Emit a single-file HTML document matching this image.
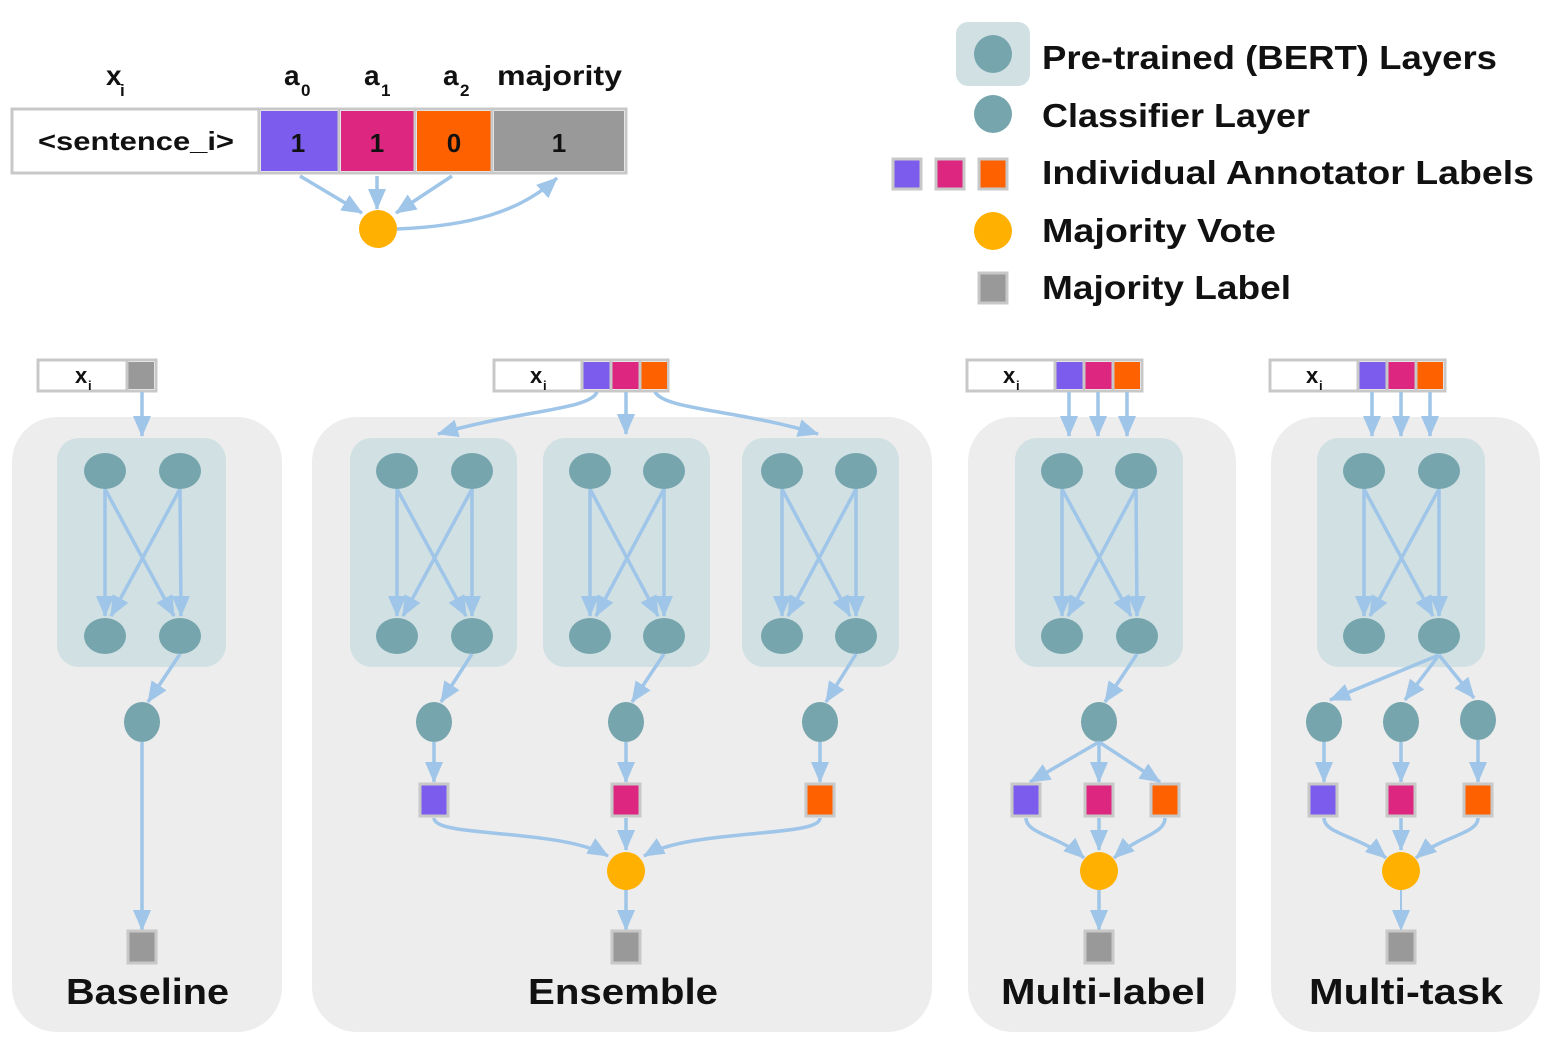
<!DOCTYPE html>
<html><head><meta charset="utf-8"><style>
body{margin:0;background:#fff}
svg{display:block}
text{font-family:"Liberation Sans",sans-serif;fill:#111}
.a{stroke:#9fc5e8;stroke-width:3.5;fill:none;marker-end:url(#m)}
.n{fill:#76a5ae}
.b{fill:#d1e0e3}
.p{fill:#ededed}
.sq{stroke:#c8c8c8;stroke-width:3}
</style></head><body>
<svg width="1556" height="1042" viewBox="0 0 1556 1042" xmlns="http://www.w3.org/2000/svg">
<defs>
<marker id="m" markerUnits="userSpaceOnUse" markerWidth="22" markerHeight="18" refX="20" refY="9" orient="auto">
<path d="M0,0 L21,9 L0,18 z" fill="#9fc5e8"/>
</marker>
</defs>

<!-- top table -->
<g font-size="28" font-weight="bold">
<text x="106" y="85">x</text><text x="120" y="96" font-size="17">i</text>
<text x="284" y="85">a</text><text x="301" y="96" font-size="17">0</text>
<text x="364" y="85">a</text><text x="381" y="96" font-size="17">1</text>
<text x="443" y="85">a</text><text x="460" y="96" font-size="17">2</text>
<text x="497" y="85" textLength="125" lengthAdjust="spacingAndGlyphs">majority</text>
</g>
<rect x="12" y="109" width="614" height="64" fill="#fff" stroke="#c8c8c8" stroke-width="3"/>
<rect x="261" y="111" width="77" height="60" fill="#7b5cec"/>
<rect x="341" y="111" width="73" height="60" fill="#dc267f"/>
<rect x="417" y="111" width="74" height="60" fill="#fe6100"/>
<rect x="494" y="111" width="130" height="60" fill="#999"/>
<line x1="259" y1="110" x2="259" y2="172" stroke="#c8c8c8" stroke-width="3"/>
<line x1="339" y1="110" x2="339" y2="172" stroke="#c8c8c8" stroke-width="3"/>
<line x1="415" y1="110" x2="415" y2="172" stroke="#c8c8c8" stroke-width="3"/>
<line x1="492" y1="110" x2="492" y2="172" stroke="#c8c8c8" stroke-width="3"/>
<g font-size="26" font-weight="bold">
<text x="38" y="150" textLength="196" lengthAdjust="spacingAndGlyphs">&lt;sentence_i&gt;</text>
</g>
<g font-size="26" font-weight="bold" text-anchor="middle">
<text x="298" y="152">1</text><text x="377" y="152">1</text><text x="454" y="152">0</text><text x="559" y="152">1</text>
</g>
<path class="a" d="M300,176 L362,213"/>
<path class="a" d="M377,176 L377,209"/>
<path class="a" d="M452,176 L396,213"/>
<path class="a" d="M397,229 C470,226 520,212 557,178"/>
<ellipse cx="378" cy="229" rx="19" ry="19" fill="#ffb000"/>

<!-- legend -->
<rect x="956" y="22" width="74" height="64" rx="12" class="b"/>
<circle cx="993" cy="54" r="19" class="n"/>
<circle cx="993" cy="114" r="19" class="n"/>
<rect x="893" y="159" width="28" height="30" fill="#7b5cec" class="sq"/>
<rect x="936" y="159" width="28" height="30" fill="#dc267f" class="sq"/>
<rect x="979" y="159" width="28" height="30" fill="#fe6100" class="sq"/>
<circle cx="993" cy="231" r="19" fill="#ffb000"/>
<rect x="979" y="273" width="28" height="30" fill="#999" class="sq"/>
<g font-size="33" font-weight="bold">
<text x="1042" y="69" textLength="455" lengthAdjust="spacingAndGlyphs">Pre-trained (BERT) Layers</text>
<text x="1042" y="127" textLength="268" lengthAdjust="spacingAndGlyphs">Classifier Layer</text>
<text x="1042" y="184" textLength="492" lengthAdjust="spacingAndGlyphs">Individual Annotator Labels</text>
<text x="1042" y="242" textLength="234" lengthAdjust="spacingAndGlyphs">Majority Vote</text>
<text x="1042" y="299" textLength="249" lengthAdjust="spacingAndGlyphs">Majority Label</text>
</g>

<!-- panels -->
<rect x="12" y="417" width="270" height="615" rx="45" class="p"/>
<rect x="312" y="417" width="620" height="615" rx="45" class="p"/>
<rect x="968" y="417" width="268" height="615" rx="45" class="p"/>
<rect x="1271" y="417" width="269" height="615" rx="45" class="p"/>

<g font-size="36" font-weight="bold">
<text x="66" y="1004" textLength="163" lengthAdjust="spacingAndGlyphs">Baseline</text>
<text x="528" y="1004" textLength="190" lengthAdjust="spacingAndGlyphs">Ensemble</text>
<text x="1001" y="1004" textLength="205" lengthAdjust="spacingAndGlyphs">Multi-label</text>
<text x="1309" y="1004" textLength="194" lengthAdjust="spacingAndGlyphs">Multi-task</text>
</g>

<!-- BERT boxes -->
<rect x="57" y="438" width="169" height="229" rx="22" class="b"/>
<rect x="350" y="438" width="167" height="229" rx="22" class="b"/>
<rect x="543" y="438" width="167" height="229" rx="22" class="b"/>
<rect x="742" y="438" width="157" height="229" rx="22" class="b"/>
<rect x="1015" y="438" width="168" height="229" rx="22" class="b"/>
<rect x="1317" y="438" width="168" height="229" rx="22" class="b"/>

<!-- BERT internals: arrows -->
<g>
<path class="a" d="M105,489 L105,616"/><path class="a" d="M105,489 L174,616"/><path class="a" d="M180,489 L111,616"/><path class="a" d="M180,489 L181,616"/>
<path class="a" d="M397,489 L397,616"/><path class="a" d="M397,489 L466,616"/><path class="a" d="M472,489 L403,616"/><path class="a" d="M472,489 L472,616"/>
<path class="a" d="M590,489 L590,616"/><path class="a" d="M590,489 L658,616"/><path class="a" d="M664,489 L596,616"/><path class="a" d="M664,489 L664,616"/>
<path class="a" d="M782,489 L782,616"/><path class="a" d="M782,489 L850,616"/><path class="a" d="M856,489 L788,616"/><path class="a" d="M856,489 L856,616"/>
<path class="a" d="M1062,489 L1062,616"/><path class="a" d="M1062,489 L1131,616"/><path class="a" d="M1136,489 L1068,616"/><path class="a" d="M1136,489 L1137,616"/>
<path class="a" d="M1364,489 L1364,616"/><path class="a" d="M1364,489 L1433,616"/><path class="a" d="M1439,489 L1370,616"/><path class="a" d="M1439,489 L1439,616"/>
</g>
<g class="n">
<ellipse cx="105" cy="471" rx="21" ry="18"/><ellipse cx="180" cy="471" rx="21" ry="18"/><ellipse cx="105" cy="636" rx="21" ry="18"/><ellipse cx="180" cy="636" rx="21" ry="18"/>
<ellipse cx="397" cy="471" rx="21" ry="18"/><ellipse cx="472" cy="471" rx="21" ry="18"/><ellipse cx="397" cy="636" rx="21" ry="18"/><ellipse cx="472" cy="636" rx="21" ry="18"/>
<ellipse cx="590" cy="471" rx="21" ry="18"/><ellipse cx="664" cy="471" rx="21" ry="18"/><ellipse cx="590" cy="636" rx="21" ry="18"/><ellipse cx="664" cy="636" rx="21" ry="18"/>
<ellipse cx="782" cy="471" rx="21" ry="18"/><ellipse cx="856" cy="471" rx="21" ry="18"/><ellipse cx="782" cy="636" rx="21" ry="18"/><ellipse cx="856" cy="636" rx="21" ry="18"/>
<ellipse cx="1062" cy="471" rx="21" ry="18"/><ellipse cx="1136" cy="471" rx="21" ry="18"/><ellipse cx="1062" cy="636" rx="21" ry="18"/><ellipse cx="1137" cy="636" rx="21" ry="18"/>
<ellipse cx="1364" cy="471" rx="21" ry="18"/><ellipse cx="1439" cy="471" rx="21" ry="18"/><ellipse cx="1364" cy="636" rx="21" ry="18"/><ellipse cx="1439" cy="636" rx="21" ry="18"/>
</g>

<!-- Baseline flow -->
<rect x="38" y="360" width="118" height="31" fill="#fff" stroke="#c8c8c8" stroke-width="3"/>
<rect x="128" y="362" width="26" height="27" fill="#999"/>
<line x1="127" y1="361" x2="127" y2="390" stroke="#c8c8c8" stroke-width="3"/>
<text x="75" y="383" font-size="22" font-weight="bold">x</text><text x="88" y="390" font-size="13" font-weight="bold">i</text>
<path class="a" d="M142,392 L142,436"/>
<path class="a" d="M180,654 L148,702"/>
<ellipse cx="142" cy="722" rx="18" ry="20" class="n"/>
<path class="a" d="M142,742 L142,930"/>
<rect x="128" y="931" width="28" height="32" fill="#999" class="sq"/>

<!-- Ensemble flow -->
<rect x="494" y="360" width="174" height="31" fill="#fff" stroke="#c8c8c8" stroke-width="3"/>
<rect x="583" y="362" width="27" height="27" fill="#7b5cec"/>
<rect x="612" y="362" width="27" height="27" fill="#dc267f"/>
<rect x="641" y="362" width="26" height="27" fill="#fe6100"/>
<path d="M582,361 V390 M611,361 V390 M640,361 V390" stroke="#c8c8c8" stroke-width="3"/>
<text x="530" y="383" font-size="22" font-weight="bold">x</text><text x="543" y="390" font-size="13" font-weight="bold">i</text>
<path class="a" d="M597,392 C590,410 520,410 438,434"/>
<path class="a" d="M626,392 L626,434"/>
<path class="a" d="M655,392 C665,410 740,410 818,434"/>
<path class="a" d="M472,654 L441,702"/>
<path class="a" d="M664,654 L632,702"/>
<path class="a" d="M856,654 L826,702"/>
<ellipse cx="434" cy="722" rx="18" ry="20" class="n"/>
<ellipse cx="626" cy="722" rx="18" ry="20" class="n"/>
<ellipse cx="820" cy="722" rx="18" ry="20" class="n"/>
<path class="a" d="M434,742 L434,782"/>
<path class="a" d="M626,742 L626,782"/>
<path class="a" d="M820,742 L820,782"/>
<rect x="420" y="784" width="28" height="32" fill="#7b5cec" class="sq"/>
<rect x="612" y="784" width="28" height="32" fill="#dc267f" class="sq"/>
<rect x="806" y="784" width="28" height="32" fill="#fe6100" class="sq"/>
<path class="a" d="M434,818 C434,838 560,828 608,856"/>
<path class="a" d="M626,818 L626,850"/>
<path class="a" d="M820,818 C820,838 692,828 644,856"/>
<ellipse cx="626" cy="871" rx="19" ry="19" fill="#ffb000"/>
<path class="a" d="M626,890 L626,930"/>
<rect x="612" y="931" width="28" height="32" fill="#999" class="sq"/>

<!-- Multi-label flow -->
<rect x="967" y="360" width="175" height="31" fill="#fff" stroke="#c8c8c8" stroke-width="3"/>
<rect x="1056" y="362" width="27" height="27" fill="#7b5cec"/>
<rect x="1085" y="362" width="27" height="27" fill="#dc267f"/>
<rect x="1114" y="362" width="26" height="27" fill="#fe6100"/>
<path d="M1055,361 V390 M1084,361 V390 M1113,361 V390" stroke="#c8c8c8" stroke-width="3"/>
<text x="1003" y="383" font-size="22" font-weight="bold">x</text><text x="1016" y="390" font-size="13" font-weight="bold">i</text>
<path class="a" d="M1069,392 L1069,436"/>
<path class="a" d="M1098,392 L1098,436"/>
<path class="a" d="M1127,392 L1127,436"/>
<path class="a" d="M1137,654 L1105,702"/>
<ellipse cx="1099" cy="722" rx="18" ry="20" class="n"/>
<path class="a" d="M1099,742 L1030,782"/>
<path class="a" d="M1099,742 L1099,782"/>
<path class="a" d="M1099,742 L1160,782"/>
<rect x="1012" y="784" width="28" height="32" fill="#7b5cec" class="sq"/>
<rect x="1085" y="784" width="28" height="32" fill="#dc267f" class="sq"/>
<rect x="1151" y="784" width="28" height="32" fill="#fe6100" class="sq"/>
<path class="a" d="M1026,818 C1026,834 1060,836 1084,858"/>
<path class="a" d="M1099,818 L1099,850"/>
<path class="a" d="M1165,818 C1165,834 1138,836 1114,858"/>
<ellipse cx="1099" cy="871" rx="19" ry="19" fill="#ffb000"/>
<path class="a" d="M1099,890 L1099,930"/>
<rect x="1085" y="931" width="28" height="32" fill="#999" class="sq"/>

<!-- Multi-task flow -->
<rect x="1270" y="360" width="175" height="31" fill="#fff" stroke="#c8c8c8" stroke-width="3"/>
<rect x="1359" y="362" width="27" height="27" fill="#7b5cec"/>
<rect x="1388" y="362" width="27" height="27" fill="#dc267f"/>
<rect x="1417" y="362" width="26" height="27" fill="#fe6100"/>
<path d="M1358,361 V390 M1387,361 V390 M1416,361 V390" stroke="#c8c8c8" stroke-width="3"/>
<text x="1306" y="383" font-size="22" font-weight="bold">x</text><text x="1319" y="390" font-size="13" font-weight="bold">i</text>
<path class="a" d="M1372,392 L1372,436"/>
<path class="a" d="M1401,392 L1401,436"/>
<path class="a" d="M1430,392 L1430,436"/>
<path class="a" d="M1439,655 L1330,700"/>
<path class="a" d="M1439,655 L1405,700"/>
<path class="a" d="M1439,655 L1474,698"/>
<ellipse cx="1324" cy="722" rx="18" ry="20" class="n"/>
<ellipse cx="1401" cy="722" rx="18" ry="20" class="n"/>
<ellipse cx="1478" cy="720" rx="18" ry="20" class="n"/>
<path class="a" d="M1324,742 L1324,782"/>
<path class="a" d="M1401,742 L1401,782"/>
<path class="a" d="M1478,740 L1478,782"/>
<rect x="1309" y="784" width="28" height="32" fill="#7b5cec" class="sq"/>
<rect x="1387" y="784" width="28" height="32" fill="#dc267f" class="sq"/>
<rect x="1464" y="784" width="28" height="32" fill="#fe6100" class="sq"/>
<path class="a" d="M1324,818 C1324,834 1360,836 1386,858"/>
<path class="a" d="M1401,818 L1401,850"/>
<path class="a" d="M1478,818 C1478,834 1442,836 1416,858"/>
<ellipse cx="1401" cy="871" rx="19" ry="19" fill="#ffb000"/>
<path class="a" d="M1401,890 L1401,930" style="stroke-width:2"/>
<rect x="1387" y="931" width="28" height="32" fill="#999" class="sq"/>
</svg>
</body></html>
